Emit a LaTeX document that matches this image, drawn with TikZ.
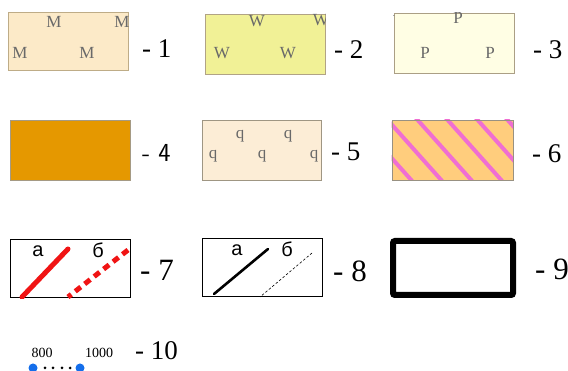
\documentclass[tikz,border=0pt]{standalone}
\usepackage{fontspec}
\setmainfont{Liberation Serif}
\newfontfamily\cyrsans{Liberation Sans}
\usetikzlibrary{positioning}
\definecolor{BgM}{RGB}{252,234,200}
\definecolor{BgW}{RGB}{241,241,150}
\definecolor{BgP}{RGB}{255,254,228}
\definecolor{BgO}{RGB}{229,152,0}
\definecolor{BgQ}{RGB}{252,237,214}
\definecolor{BgS}{RGB}{255,205,125}
\definecolor{PkS}{RGB}{240,110,210}
\definecolor{EdT}{RGB}{190,172,135}
\definecolor{TxG}{RGB}{105,105,105}
\definecolor{RdL}{RGB}{240,20,20}
\definecolor{BlD}{RGB}{20,110,235}

\begin{document}
\begin{tikzpicture}[x=1pt, y=-1pt,
  legbox/.style={draw=#1, line width=0.8pt, minimum width=120pt,
                 minimum height=58pt, inner sep=0pt},
  num/.style={anchor=west, inner sep=0pt, font=\fontsize{27}{27}\selectfont},
  bignum/.style={anchor=west, inner sep=0pt, font=\fontsize{31}{31}\selectfont},
  pat/.style={text=TxG, inner sep=0pt, font=\fontsize{17}{17}\selectfont},
  ab/.style={inner sep=0pt, font=\cyrsans\fontsize{20}{20}\selectfont},
  val/.style={inner sep=0pt, font=\fontsize{14}{14}\selectfont},
  stripe/.style={draw=PkS, line width=4pt},
  bdot/.style={circle, fill=BlD, inner sep=0pt, minimum size=9pt},
  kdot/.style={circle, fill=black, inner sep=0pt, minimum size=3pt}
]
\useasboundingbox (0,0) rectangle (568,371);

% row 1
\node[legbox=EdT, fill=BgM] (b1) at (68,41.5) {};
\node[legbox=EdT!80!gray, fill=BgW, minimum height=60pt] (b2) at (265,44) {};
\node[legbox=EdT!70!gray, fill=BgP, minimum height=60pt] (b3) at (454,43) {};
\begin{scope}
  \clip (b1.south west) rectangle (b1.north east);
  \foreach \p [count=\i] in {(54,22),(122,22),(20,53),(87,53)}
    \node[pat] (m\i) at \p {M};
\end{scope}
\begin{scope}
  \clip (b2.south west) rectangle (b2.north east);
  \foreach \p [count=\i] in {(257,21),(321,20),(222,53),(288,53)}
    \node[pat] (w\i) at \p {W};
\end{scope}
\begin{scope}
  \clip (b3.south west) rectangle (b3.north east);
  \foreach \p [count=\i] in {(394,11),(458,18),(425,53),(490,53)}
    \node[pat] (p\i) at \p {P};
\end{scope}
\node[num] (n1) at (142,48.5) {- 1};
\node[num] (n2) at (334,49.5) {- 2};
\node[num] (n3) at (533,49.5) {- 3};

% row 2
\node[legbox=EdT!60!gray, fill=BgO, minimum height=60pt] (b4) at (70,150) {};
\node[legbox=EdT!50!gray, fill=BgQ, minimum height=60pt,
      minimum width=119pt] (b5) at (261.5,150) {};
\node[legbox=EdT!40!gray, fill=BgS, minimum height=60pt,
      minimum width=121pt] (b6) at (452.5,150) {};
\begin{scope}
  \clip (b5.south west) rectangle (b5.north east);
  \foreach \p [count=\i] in {(240,136),(288,136),(213,156),(262,156),(314,156)}
    \node[pat] (q\i) at \p {q};
\end{scope}
\begin{scope}
  \clip (b6.south west) rectangle (b6.north east);
  \foreach \s in {355,385,415,445,475,505}
    \draw[stripe] (\s,117) -- ++(66,74);
\end{scope}
\node[legbox=EdT!40!gray, minimum height=60pt, minimum width=121pt] (b6e) at (b6) {};
\node[num, font=\sffamily\fontsize{26}{26}\selectfont] (n4) at (142,152.5) {- 4};
\node[num] (n5) at (331,151.5) {- 5};
\node[num] (n6) at (532,153.5) {- 6};

% row 3
\node[legbox=black, line width=1pt] (b7) at (70,269) {};
\node[legbox=black, line width=1pt] (b8) at (262,268) {};
\node[legbox=black, line width=6pt, rounded corners=2pt,
      minimum height=54pt] (b9) at (453,268) {};
\begin{scope}
  \clip (b7.south west) rectangle (b7.north east);
  \coordinate (r1) at (68,249);  \coordinate (r2) at (22,297);
  \coordinate (r3) at (128,250); \coordinate (r4) at (68,297);
  \draw[RdL, line width=5pt, line cap=round] (r1) -- (r2);
  \draw[RdL, line width=5pt, dash pattern=on 7pt off 5pt] (r3) -- (r4);
\end{scope}
\begin{scope}
  \clip (b8.south west) rectangle (b8.north east);
  \coordinate (s1) at (268,249); \coordinate (s2) at (214,294);
  \coordinate (s3) at (312,253); \coordinate (s4) at (260,297);
  \draw[line width=2.6pt, line cap=round] (s1) -- (s2);
  \draw[line width=0.6pt, dash pattern=on 2.5pt off 2pt] (s3) -- (s4);
\end{scope}
\node[ab] (a7) at (38,251) {а};
\node[ab] (v7) at (98,250) {б};
\node[ab] (a8) at (237,250) {а};
\node[ab] (v8) at (287,249) {б};
\node[bignum] (n7) at (140,270) {- 7};
\node[bignum] (n8) at (333,271) {- 8};
\node[bignum] (n9) at (535,269) {- 9};

% item 10
\node[bdot] (d1) at (33,368) {};
\node[bdot] (d2) at (80,368) {};
\foreach \x [count=\i] in {45,53,62,70}
  \node[kdot] (k\i) at (\x,368) {};
\node[val] (v800) at (42,353) {800};
\node[val] (v1000) at (99,353) {1000};
\node[num, font=\fontsize{27}{27}\selectfont] (n10) at (135,350.5) {- 10};
\end{tikzpicture}
\end{document}
